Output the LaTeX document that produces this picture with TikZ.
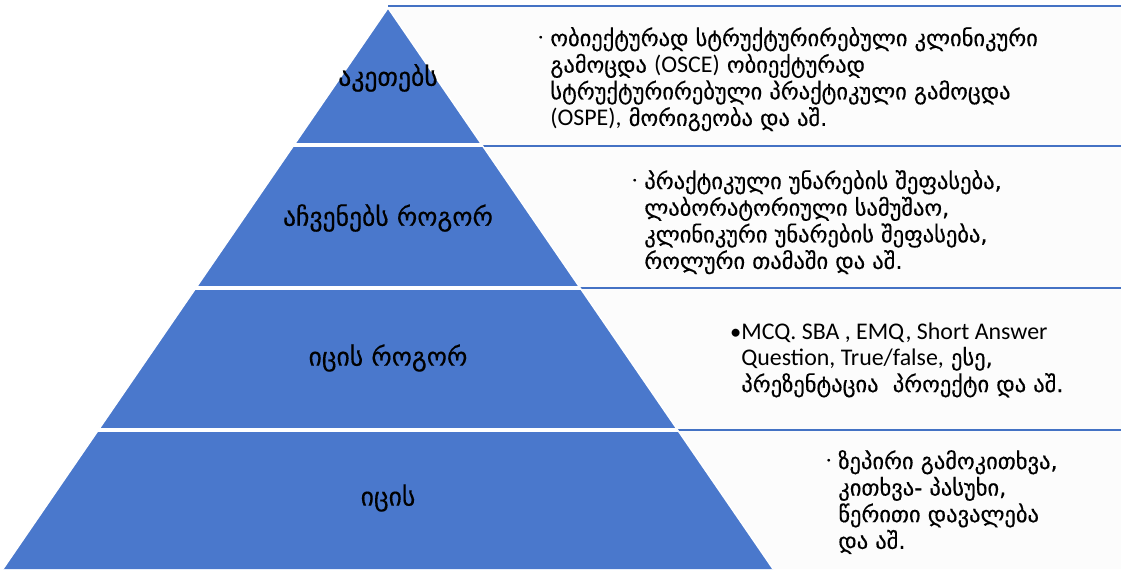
\documentclass[tikz,border=0pt]{standalone}
\usepackage{fontspec}
\usepackage{xcolor}
\setmainfont{DejaVu Sans}[FakeBold=0.4]
\newfontfamily\latfont{Carlito}
\definecolor{pyrblue}{HTML}{4A78CC}
\definecolor{ruleblue}{HTML}{4472C4}
\definecolor{boxgray}{HTML}{FCFCFC}
\newcommand{\dotbul}{\makebox[0pt][r]{\raisebox{0.45ex}{\tiny\textbullet}\hspace{4pt}}}
\newcommand{\bigbul}{\makebox[0pt][r]{\latfont\textbullet}}
\newcommand{\latline}[1]{{\latfont\fontsize{13.6}{14.8}\selectfont #1}}

\begin{document}
\begin{tikzpicture}[x=0.02cm, y=-0.02cm,
    level/.style={font=\fontsize{14.6}{16}\selectfont, text=black, inner sep=0pt},
    desc/.style={font=\fontsize{12.8}{14.8}\selectfont, anchor=base west, inner sep=0pt},
    boxrule/.style={draw=ruleblue, line width=1.2pt},
    sepline/.style={draw=white, line width=1.8pt}
]
    \useasboundingbox (0,0) rectangle (1121,569);

    % text panels behind the pyramid
    \fill[boxgray] (388,6) rectangle (1121,569);
    \foreach \y in {6,146,288,430}
        \draw[boxrule] (388,\y) -- (1121,\y);

    % pyramid
    \coordinate (apex) at (388,8);
    \coordinate (baseleft) at (3,569);
    \coordinate (baseright) at (773,569);
    \fill[pyrblue] (apex) -- (baseright) -- (baseleft) -- cycle;
    \draw[white, line width=0.8pt] (baseleft) -- (apex) -- (baseright);
    \begin{scope}
        \clip (apex) -- (baseright) -- (baseleft) -- cycle;
        \foreach \y in {145,288,430}
            \draw[sepline] (0,\y) -- (1121,\y);
    \end{scope}

    % tier labels
    \node[level] (does) at (388,78) {აკეთებს};
    \node[level] (shows) at (388,218) {აჩვენებს როგორ};
    \node[level] (knowshow) at (388,358) {იცის როგორ};
    \node[level] (knows) at (388,498) {იცის};

    % descriptions
    \node[desc] (doestext) at (550,46) {\begin{tabular}[t]{@{}l@{}}
        \dotbul ობიექტურად სტრუქტურირებული კლინიკური\\
        გამოცდა \latline{(OSCE)} ობიექტურად\\
        სტრუქტურირებული პრაქტიკული გამოცდა\\
        \latline{(OSPE),} მორიგეობა და აშ.
    \end{tabular}};
    \node[desc] (showstext) at (644,189) {\begin{tabular}[t]{@{}l@{}}
        \dotbul პრაქტიკული უნარების შეფასება,\\
        ლაბორატორიული სამუშაო,\\
        კლინიკური უნარების შეფასება,\\
        როლური თამაში და აშ.
    \end{tabular}};
    \node[desc] (knowshowtext) at (741,339) {\begin{tabular}[t]{@{}l@{}}
        \bigbul\latline{MCQ. SBA , EMQ, Short Answer}\\
        \latline{Question, True/false,} ესე,\\
        პრეზენტაცია\ \ პროექტი და აშ.
    \end{tabular}};
    \node[desc] (knowstext) at (838,469) {\begin{tabular}[t]{@{}l@{}}
        \dotbul ზეპირი გამოკითხვა,\\
        კითხვა- პასუხი,\\
        წერითი დავალება\\
        და აშ.
    \end{tabular}};
\end{tikzpicture}
\end{document}
